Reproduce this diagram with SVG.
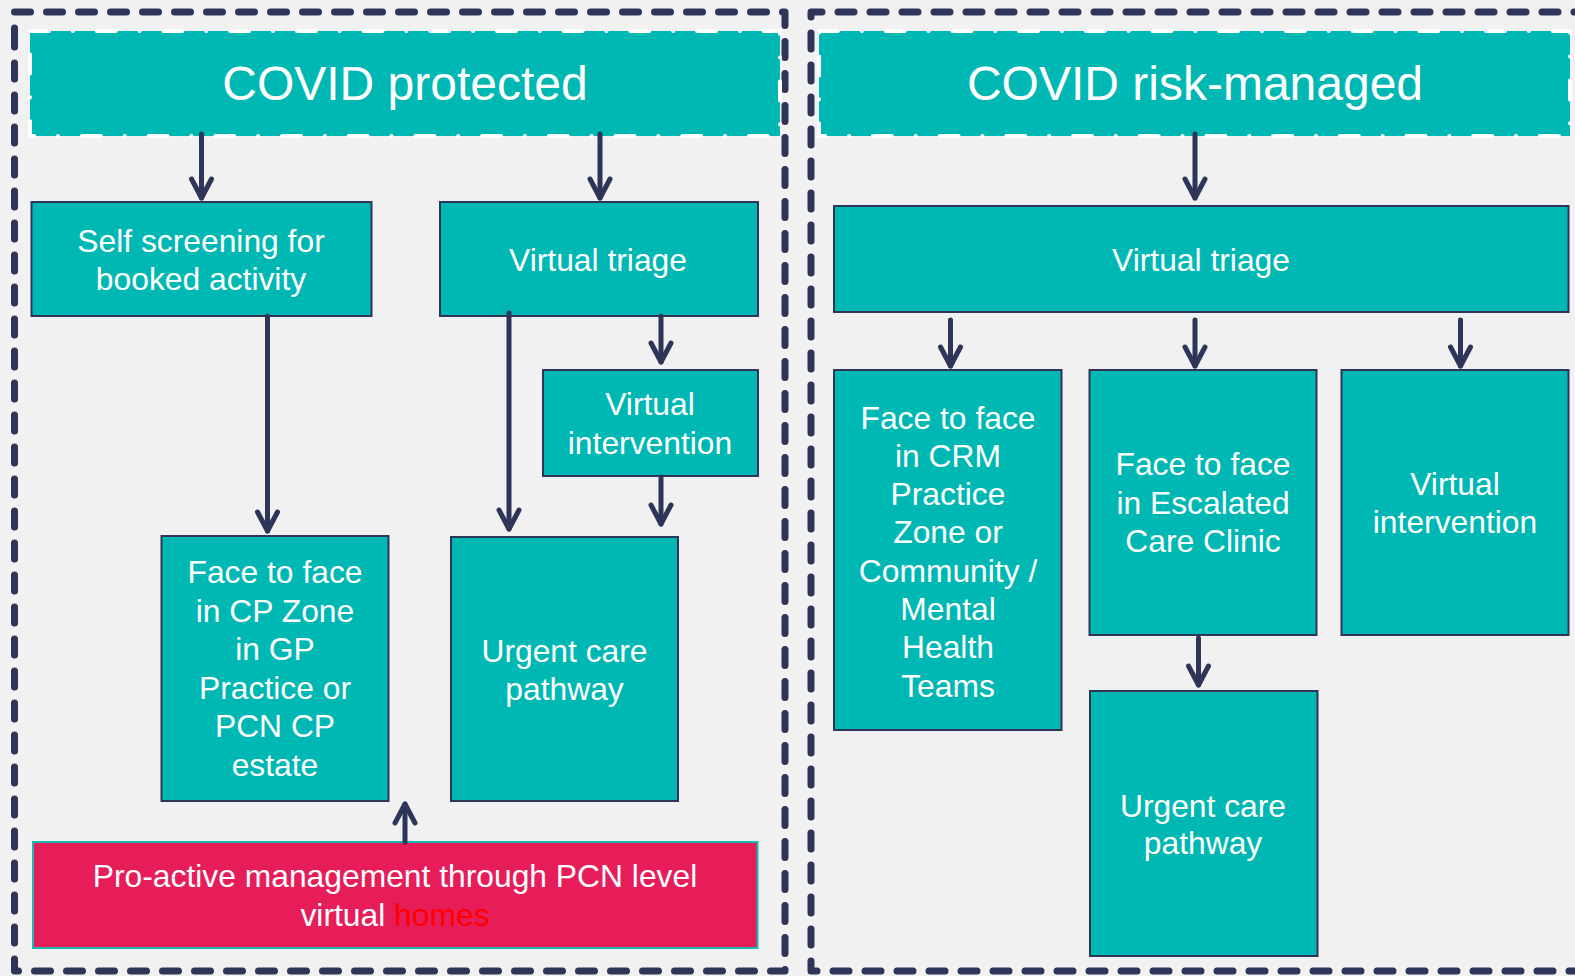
<svg xmlns="http://www.w3.org/2000/svg" width="1575" height="976" viewBox="0 0 1575 976">
  <defs>
    <style>
      .panel { fill: none; stroke: #2e3558; stroke-width: 7; stroke-dasharray: 16 16; stroke-linecap: round; stroke-linejoin: round; }
      .header { fill: #00b8b3; stroke: #ffffff; stroke-width: 4; stroke-dasharray: 19 23.8 0.1 23.8; stroke-linecap: round; }
      .box { fill: #00b8b3; stroke: #2e3558; stroke-width: 2; }
      .pink { fill: #e71d5a; stroke: #1bb8b2; stroke-width: 2; }
      .title { font-family: "Liberation Sans", Arial, sans-serif; font-size: 48px; fill: #ffffff; text-anchor: middle; }
      .lbl { font-family: "Liberation Sans", Arial, sans-serif; font-size: 31.8px; fill: #ffffff; text-anchor: middle; }
      .red { fill: #ff0000; }
      .conn { stroke: #2e3558; stroke-width: 5; stroke-linecap: round; fill: none; marker-end: url(#chev); }
    </style>
    <marker id="chev" markerUnits="userSpaceOnUse" orient="auto" overflow="visible" markerWidth="1" markerHeight="1" refX="0" refY="0">
      <path d="M-19,-10 L0,0 L-19,10" fill="none" stroke="#2e3558" stroke-width="5" stroke-linecap="round" stroke-linejoin="round"/>
    </marker>
  </defs>

  <rect x="0" y="0" width="1575" height="976" fill="#f1f1f1"/>

  <!-- panel frames -->
  <g id="panels">
    <path class="panel" d="M14.5,44 L14.5,12 L785,12 L785,971 L14.5,971 L14.5,44"/>
    <path class="panel" d="M1590,12 L811,12 L811,971 L1590,971"/>
  </g>

  <!-- left panel: COVID protected -->
  <g id="hdr-protected">
    <rect class="header" x="30" y="31" width="750" height="105"/>
    <text class="title" x="405" y="100">COVID protected</text>
  </g>
  <g id="self-screening">
    <rect class="box" x="31.5" y="202" width="340" height="114"/>
    <text class="lbl" x="201" y="251.5">Self screening for</text>
    <text class="lbl" x="201" y="289.5">booked activity</text>
  </g>
  <g id="virtual-triage-l">
    <rect class="box" x="440" y="202" width="318" height="114"/>
    <text class="lbl" x="598" y="270.5">Virtual triage</text>
  </g>
  <g id="virtual-intervention-l">
    <rect class="box" x="543" y="370" width="215" height="106"/>
    <text class="lbl" x="650" y="415">Virtual</text>
    <text class="lbl" x="650" y="454">intervention</text>
  </g>
  <g id="face-cp">
    <rect class="box" x="161.5" y="536" width="227" height="265"/>
    <text class="lbl" x="275" y="583">Face to face</text>
    <text class="lbl" x="275" y="621.5">in CP Zone</text>
    <text class="lbl" x="275" y="660">in GP</text>
    <text class="lbl" x="275" y="698.5">Practice or</text>
    <text class="lbl" x="275" y="737">PCN CP</text>
    <text class="lbl" x="275" y="775.5">estate</text>
  </g>
  <g id="urgent-care-l">
    <rect class="box" x="451" y="537" width="227" height="264"/>
    <text class="lbl" x="564.5" y="662">Urgent care</text>
    <text class="lbl" x="564.5" y="700">pathway</text>
  </g>
  <g id="proactive">
    <rect class="pink" x="33" y="842" width="724.5" height="106"/>
    <text class="lbl" x="395" y="886.5">Pro-active management through PCN level</text>
    <text class="lbl" x="395" y="926">virtual <tspan class="red">homes</tspan></text>
  </g>

  <!-- right panel: COVID risk-managed -->
  <g id="hdr-risk">
    <rect class="header" x="819" y="31" width="751" height="105"/>
    <text class="title" x="1195" y="100">COVID risk-managed</text>
  </g>
  <g id="virtual-triage-r">
    <rect class="box" x="834" y="206" width="734.5" height="106"/>
    <text class="lbl" x="1201" y="271">Virtual triage</text>
  </g>
  <g id="face-crm">
    <rect class="box" x="834" y="370" width="227.5" height="360"/>
    <text class="lbl" x="948" y="428.5">Face to face</text>
    <text class="lbl" x="948" y="466.8">in CRM</text>
    <text class="lbl" x="948" y="505.1">Practice</text>
    <text class="lbl" x="948" y="543.4">Zone or</text>
    <text class="lbl" x="948" y="581.7">Community /</text>
    <text class="lbl" x="948" y="620">Mental</text>
    <text class="lbl" x="948" y="658.3">Health</text>
    <text class="lbl" x="948" y="696.6">Teams</text>
  </g>
  <g id="face-escalated">
    <rect class="box" x="1089.5" y="370" width="227" height="265"/>
    <text class="lbl" x="1203" y="475">Face to face</text>
    <text class="lbl" x="1203" y="513.5">in Escalated</text>
    <text class="lbl" x="1203" y="552">Care Clinic</text>
  </g>
  <g id="virtual-intervention-r">
    <rect class="box" x="1341.5" y="370" width="227" height="265"/>
    <text class="lbl" x="1455" y="495">Virtual</text>
    <text class="lbl" x="1455" y="533">intervention</text>
  </g>
  <g id="urgent-care-r">
    <rect class="box" x="1090" y="691" width="227.5" height="265"/>
    <text class="lbl" x="1203" y="816.5">Urgent care</text>
    <text class="lbl" x="1203" y="854">pathway</text>
  </g>

  <!-- connectors -->
  <g id="connectors">
    <line class="conn" x1="201.5" y1="134" x2="201.5" y2="198"/>
    <line class="conn" x1="600" y1="134" x2="600" y2="198"/>
    <line class="conn" x1="267.5" y1="316" x2="267.5" y2="531"/>
    <line class="conn" x1="509" y1="313" x2="509" y2="529"/>
    <line class="conn" x1="661" y1="316" x2="661" y2="362"/>
    <line class="conn" x1="661" y1="477" x2="661" y2="524"/>
    <line class="conn" x1="405" y1="842" x2="405" y2="804"/>
    <line class="conn" x1="1195" y1="134" x2="1195" y2="198"/>
    <line class="conn" x1="950.5" y1="320" x2="950.5" y2="366"/>
    <line class="conn" x1="1195" y1="320" x2="1195" y2="366"/>
    <line class="conn" x1="1460.5" y1="320" x2="1460.5" y2="366"/>
    <line class="conn" x1="1198.5" y1="638" x2="1198.5" y2="685"/>
  </g>
</svg>
